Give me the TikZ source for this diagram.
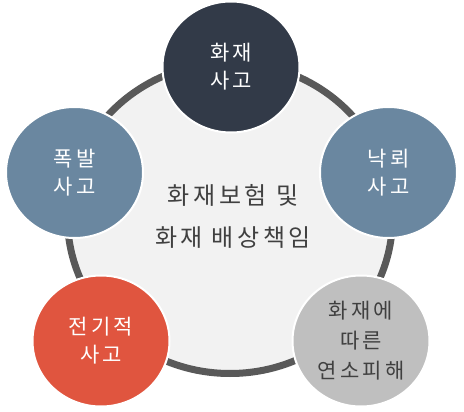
\documentclass[tikz,border=0pt]{standalone}
\usepackage{fontspec}
\usetikzlibrary{shapes.geometric}
\newfontfamily\kr[LetterSpace=15]{Noto Sans CJK KR}
\newfontfamily\krc[LetterSpace=15]{Noto Sans CJK KR}
\definecolor{navy}{HTML}{323A48}
\definecolor{steel}{HTML}{6A87A0}
\definecolor{redc}{HTML}{E0553F}
\definecolor{grayc}{HTML}{BFBFBF}
\definecolor{ringc}{HTML}{595959}
\definecolor{innerc}{HTML}{F2F2F2}
\definecolor{textd}{HTML}{404040}
\tikzset{
  bubble/.style={ellipse, draw=white, line width=2pt, minimum width=137pt, minimum height=131pt,
    inner sep=0pt, align=center, text=white, font={\kr\fontsize{21}{28}\selectfont}},
}
\begin{document}
\begin{tikzpicture}[x=1pt,y=-1pt]
\useasboundingbox (0,0) rectangle (464,412);
\fill[white] (0,0) rectangle (464,412);
\draw[line width=7pt, draw=ringc, fill=innerc] (230,218) ellipse [x radius=162.5pt, y radius=155.5pt];
\node[font={\krc\fontsize{24}{42}\selectfont}, text=textd, align=center] (center) at (233,216) {화재보험 및\\화재 배상책임};
\node[bubble, fill=navy] (top) at (231,67) {화재\\사고};
\node[bubble, fill=steel] (left) at (74.5,172.5) {폭발\\사고};
\node[bubble, fill=steel] (right) at (388.5,172.5) {낙뢰\\사고};
\node[bubble, fill=redc] (bl) at (101,341) {전기적\\사고};
\node[bubble, fill=grayc, text=textd, font={\kr\fontsize{21}{30}\selectfont}] (br) at (361,341) {화재에\\따른\\연소피해};
\end{tikzpicture}
\end{document}
